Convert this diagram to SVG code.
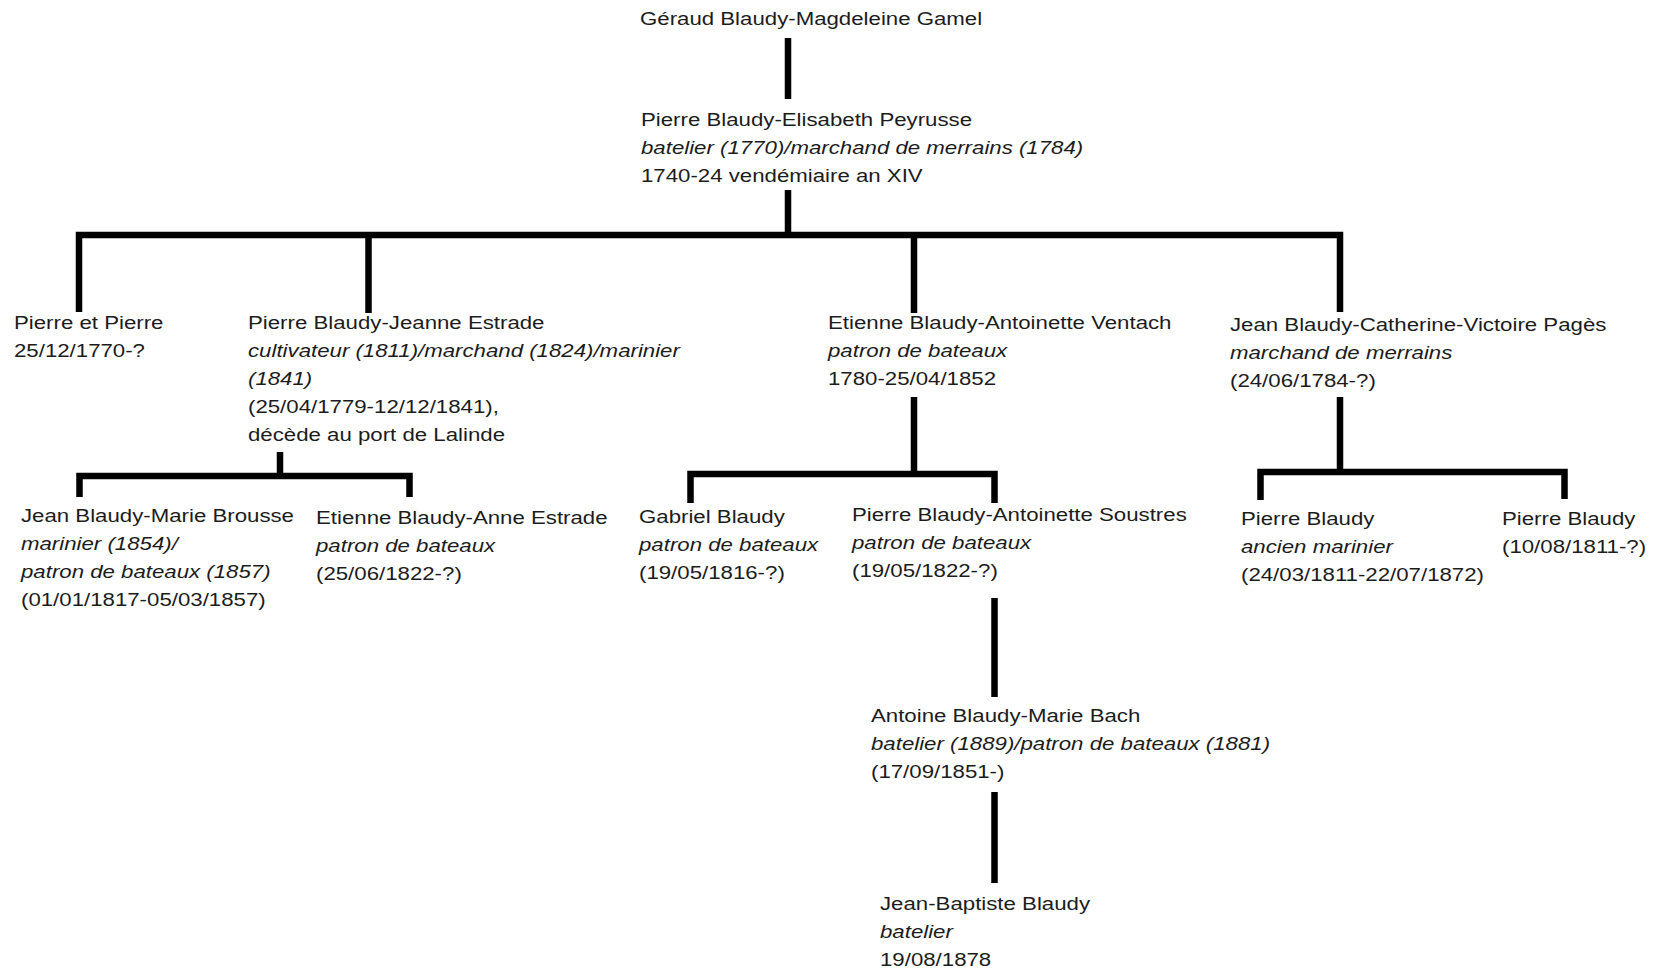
<svg xmlns="http://www.w3.org/2000/svg" width="1665" height="968" viewBox="0 0 1665 968">
<style>
.t{font-family:"Liberation Sans",Arial,sans-serif;font-size:17.5px;fill:#1c1c1c}
.i{font-style:italic}
.c{fill:none;stroke:#000;stroke-width:6.5;stroke-linejoin:miter;stroke-linecap:butt}
</style>
<rect width="1665" height="968" fill="#fff"/>
<g id="connectors" class="c">
<path d="M788,38 V99"/>
<path d="M788,190 V235"/>
<path d="M79,312 V235 H1340 V312"/>
<path d="M368.5,235 V313"/>
<path d="M914,235 V313"/>
<path d="M280,452 V476"/>
<path d="M79.5,497 V476 H409.5 V497"/>
<path d="M914,397 V474"/>
<path d="M690.5,503 V474 H994.5 V503"/>
<path d="M994.5,598 V697"/>
<path d="M994.5,792 V883"/>
<path d="M1340,397 V472"/>
<path d="M1260.5,500 V472 H1564.5 V499"/>
</g>
<g id="n1"><text class="t" transform="translate(640 25) scale(1.27 1)"><tspan x="0" y="0">Géraud Blaudy-Magdeleine Gamel</tspan></text></g>
<g id="n2"><text class="t" transform="translate(641 126) scale(1.27 1)"><tspan x="0" y="0">Pierre Blaudy-Elisabeth Peyrusse</tspan><tspan class="i" x="0" dy="28">batelier (1770)/marchand de merrains (1784)</tspan><tspan x="0" dy="28">1740-24 vendémiaire an XIV</tspan></text></g>
<g id="n3"><text class="t" transform="translate(14 329) scale(1.27 1)"><tspan x="0" y="0">Pierre et Pierre</tspan><tspan x="0" dy="28">25/12/1770-?</tspan></text></g>
<g id="n4"><text class="t" transform="translate(248 329) scale(1.27 1)"><tspan x="0" y="0">Pierre Blaudy-Jeanne Estrade</tspan><tspan class="i" x="0" dy="28">cultivateur (1811)/marchand (1824)/marinier</tspan><tspan class="i" x="0" dy="28">(1841)</tspan><tspan x="0" dy="28">(25/04/1779-12/12/1841),</tspan><tspan x="0" dy="28">décède au port de Lalinde</tspan></text></g>
<g id="n5"><text class="t" transform="translate(828 329) scale(1.27 1)"><tspan x="0" y="0">Etienne Blaudy-Antoinette Ventach</tspan><tspan class="i" x="0" dy="28">patron de bateaux</tspan><tspan x="0" dy="28">1780-25/04/1852</tspan></text></g>
<g id="n6"><text class="t" transform="translate(1230 331) scale(1.27 1)"><tspan x="0" y="0">Jean Blaudy-Catherine-Victoire Pagès</tspan><tspan class="i" x="0" dy="28">marchand de merrains</tspan><tspan x="0" dy="28">(24/06/1784-?)</tspan></text></g>
<g id="n7"><text class="t" transform="translate(21 522) scale(1.27 1)"><tspan x="0" y="0">Jean Blaudy-Marie Brousse</tspan><tspan class="i" x="0" dy="28">marinier (1854)/</tspan><tspan class="i" x="0" dy="28">patron de bateaux (1857)</tspan><tspan x="0" dy="28">(01/01/1817-05/03/1857)</tspan></text></g>
<g id="n8"><text class="t" transform="translate(316 524) scale(1.27 1)"><tspan x="0" y="0">Etienne Blaudy-Anne Estrade</tspan><tspan class="i" x="0" dy="28">patron de bateaux</tspan><tspan x="0" dy="28">(25/06/1822-?)</tspan></text></g>
<g id="n9"><text class="t" transform="translate(639 523) scale(1.27 1)"><tspan x="0" y="0">Gabriel Blaudy</tspan><tspan class="i" x="0" dy="28">patron de bateaux</tspan><tspan x="0" dy="28">(19/05/1816-?)</tspan></text></g>
<g id="n10"><text class="t" transform="translate(852 521) scale(1.27 1)"><tspan x="0" y="0">Pierre Blaudy-Antoinette Soustres</tspan><tspan class="i" x="0" dy="28">patron de bateaux</tspan><tspan x="0" dy="28">(19/05/1822-?)</tspan></text></g>
<g id="n11"><text class="t" transform="translate(1241 525) scale(1.27 1)"><tspan x="0" y="0">Pierre Blaudy</tspan><tspan class="i" x="0" dy="28">ancien marinier</tspan><tspan x="0" dy="28">(24/03/1811-22/07/1872)</tspan></text></g>
<g id="n12"><text class="t" transform="translate(1502 525) scale(1.27 1)"><tspan x="0" y="0">Pierre Blaudy</tspan><tspan x="0" dy="28">(10/08/1811-?)</tspan></text></g>
<g id="n13"><text class="t" transform="translate(871 722) scale(1.27 1)"><tspan x="0" y="0">Antoine Blaudy-Marie Bach</tspan><tspan class="i" x="0" dy="28">batelier (1889)/patron de bateaux (1881)</tspan><tspan x="0" dy="28">(17/09/1851-)</tspan></text></g>
<g id="n14"><text class="t" transform="translate(880 910) scale(1.27 1)"><tspan x="0" y="0">Jean-Baptiste Blaudy</tspan><tspan class="i" x="0" dy="28">batelier</tspan><tspan x="0" dy="28">19/08/1878</tspan></text></g>
</svg>
